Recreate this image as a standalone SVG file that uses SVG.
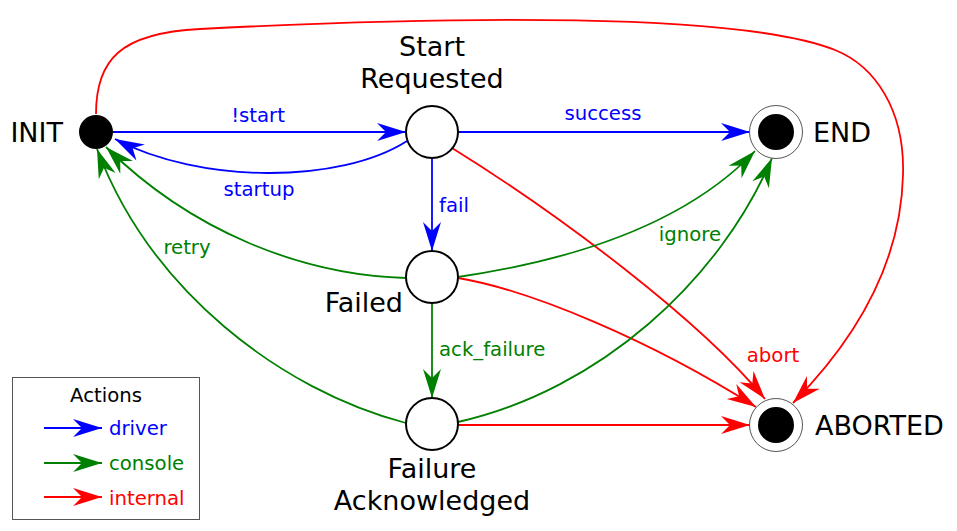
<svg xmlns="http://www.w3.org/2000/svg" width="957" height="531" viewBox="0 0 957 531">
<style>
text{font-family:"DejaVu Sans","Liberation Sans",sans-serif}
.node{font-size:27px;fill:#000}
.lbl{font-size:19.7px}
.e{fill:none;stroke-width:1.8}
.b{stroke:#0000ff}.g{stroke:#008000}.r{stroke:#ff0000}
.tb{fill:#0000ff}.tg{fill:#008000}.tr{fill:#ff0000}
.st{fill:#fff;stroke:#000;stroke-width:2}
.fin{fill:#fff;stroke:#555;stroke-width:1}
</style>
<defs>
<marker id="ab" markerUnits="userSpaceOnUse" markerWidth="32" markerHeight="20" viewBox="-31 -10 32 20" refX="0" refY="0" orient="auto"><path d="M0,0 L-29,-9 L-20,0 L-29,9 Z" fill="#0000ff"/></marker>
<marker id="ag" markerUnits="userSpaceOnUse" markerWidth="32" markerHeight="20" viewBox="-31 -10 32 20" refX="0" refY="0" orient="auto"><path d="M0,0 L-29,-9 L-20,0 L-29,9 Z" fill="#008000"/></marker>
<marker id="ar" markerUnits="userSpaceOnUse" markerWidth="32" markerHeight="20" viewBox="-31 -10 32 20" refX="0" refY="0" orient="auto"><path d="M0,0 L-29,-9 L-20,0 L-29,9 Z" fill="#ff0000"/></marker>
</defs>
<rect width="957" height="531" fill="#fff"/>
<g id="connectors">
<path class="e r" d="M96,114 C96,60 120,33 200,29 C450,16 740,12 835,50 C875,66 905,110 903,175 C901,260 860,335 793,403" marker-end="url(#ar)"/>
<path class="e b" d="M113,132 L406,132" marker-end="url(#ab)"/>
<path class="e b" d="M407,141 C340,184 200,184 115,139" marker-end="url(#ab)"/>
<path class="e b" d="M458,132 L750,132" marker-end="url(#ab)"/>
<path class="e b" d="M432,158 L432,251" marker-end="url(#ab)"/>
<path class="e r" d="M452,148 C560,215 700,320 765,399" marker-end="url(#ar)"/>
<path class="e g" d="M406,278 C300,275 190,230 106,147" marker-end="url(#ag)"/>
<path class="e g" d="M458,277 C560,262 680,230 755,151" marker-end="url(#ag)"/>
<path class="e r" d="M458,278 C530,290 650,340 756,407" marker-end="url(#ar)"/>
<path class="e g" d="M432,303 L432,398" marker-end="url(#ag)"/>
<path class="e g" d="M406,423 C280,390 150,290 97,149" marker-end="url(#ag)"/>
<path class="e g" d="M458,422 C600,390 720,280 772,158" marker-end="url(#ag)"/>
<path class="e r" d="M458,425 L750,425" marker-end="url(#ar)"/>
<text class="lbl tb" x="258" y="122" text-anchor="middle">!start</text>
<text class="lbl tb" x="259" y="196" text-anchor="middle">startup</text>
<text class="lbl tb" x="603" y="120" text-anchor="middle">success</text>
<text class="lbl tb" x="439" y="212">fail</text>
<text class="lbl tg" x="187" y="254" text-anchor="middle">retry</text>
<text class="lbl tg" x="690" y="241" text-anchor="middle">ignore</text>
<text class="lbl tg" x="439" y="356">ack_failure</text>
<text class="lbl tr" x="773" y="362" text-anchor="middle">abort</text>
</g>
<g id="INIT">
<circle cx="96" cy="132" r="17" fill="#000"/>
<text class="node" x="63" y="141.5" text-anchor="end">INIT</text>
</g>
<g id="StartRequested">
<circle class="st" cx="432" cy="132" r="26"/>
<text class="node" x="432" y="56" text-anchor="middle">Start</text>
<text class="node" x="432" y="88" text-anchor="middle">Requested</text>
</g>
<g id="END">
<circle class="fin" cx="776" cy="132" r="26.5"/>
<circle cx="776" cy="132" r="18" fill="#000"/>
<text class="node" x="813" y="141.5">END</text>
</g>
<g id="Failed">
<circle class="st" cx="432" cy="277" r="26"/>
<text class="node" x="403" y="312" text-anchor="end">Failed</text>
</g>
<g id="FailureAcknowledged">
<circle class="st" cx="432" cy="424" r="26"/>
<text class="node" x="432" y="478" text-anchor="middle">Failure</text>
<text class="node" x="432" y="510" text-anchor="middle">Acknowledged</text>
</g>
<g id="ABORTED">
<circle class="fin" cx="776" cy="425" r="26.5"/>
<circle cx="776" cy="425" r="18" fill="#000"/>
<text class="node" x="815" y="435">ABORTED</text>
</g>
<g id="legend">
<rect x="12.5" y="377.5" width="187" height="142" fill="#fff" stroke="#555" stroke-width="1"/>
<text class="lbl" x="106" y="402" text-anchor="middle" fill="#000">Actions</text>
<path class="e b" d="M44,428 L102,428" marker-end="url(#ab)"/>
<text class="lbl tb" x="109" y="435">driver</text>
<path class="e g" d="M44,463 L102,463" marker-end="url(#ag)"/>
<text class="lbl tg" x="109" y="470">console</text>
<path class="e r" d="M44,497 L102,497" marker-end="url(#ar)"/>
<text class="lbl tr" x="109" y="505">internal</text>
</g>
</svg>
